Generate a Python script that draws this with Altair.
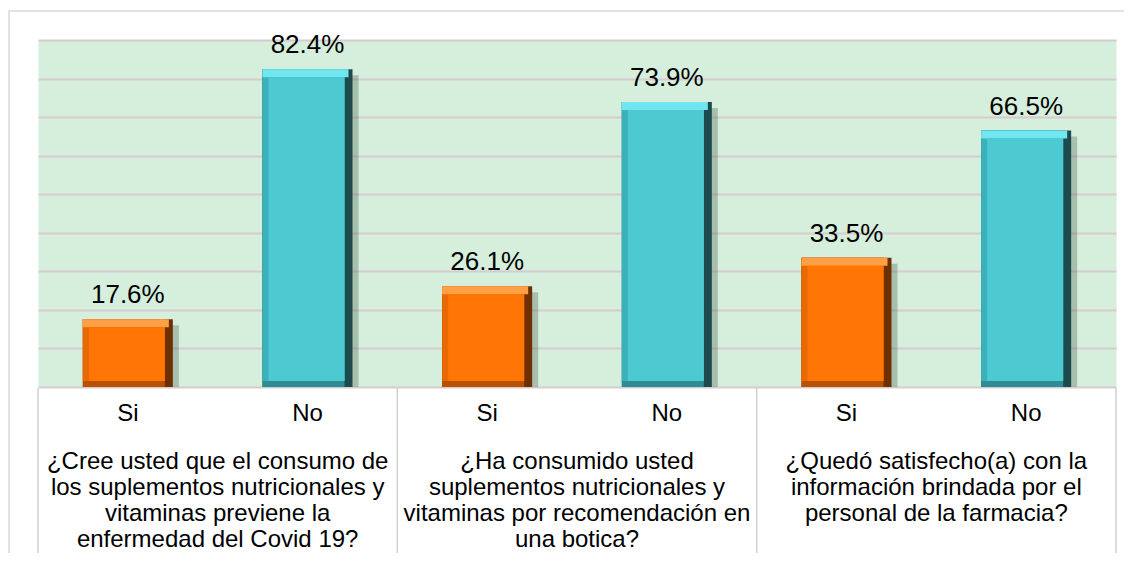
import altair as alt
import pandas as pd

# ---- data ----
responses = ["Si", "No"]
si_values = [17.6, 26.1, 33.5]
no_values = [82.4, 73.9, 66.5]
questions = [
    "¿Cree usted que el consumo de\nlos suplementos nutricionales y\nvitaminas previene la\nenfermedad del Covid 19?",
    "¿Ha consumido usted\nsuplementos nutricionales y\nvitaminas por recomendación en\nuna botica?",
    "¿Quedó satisfecho(a) con la\ninformación brindada por el\npersonal de la farmacia?",
]
y_ticks = [0, 10, 20, 30, 40, 50, 60, 70, 80, 90]

rows = []
for i, q in enumerate(questions):
    for r, v in zip(responses, [si_values[i], no_values[i]]):
        rows.append({"key": f"q{i+1}-{r}", "resp": r, "value": v,
                     "label": f"{v:.1f}%", "question": q})
df = pd.DataFrame(rows)
keys = list(df["key"])

W, H = 1078, 347
FONT = "Liberation Sans"

base = alt.Chart(df)
xscale = alt.Scale(paddingInner=0, paddingOuter=0)
x_enc = alt.X("key:N", sort=keys, scale=xscale, axis=None)
yaxis = alt.Axis(values=y_ticks, labels=False, ticks=False, domain=False, title=None,
                 grid=True, gridColor="#d6ccd0", gridWidth=2)
yscale = alt.Scale(domain=[0, 90], nice=False)
y_enc = alt.Y("value:Q", scale=yscale, axis=yaxis)
y0 = alt.datum(0)


def pick(si_col, no_col):
    return alt.condition(alt.datum.resp == "Si", alt.value(si_col), alt.value(no_col))


border = alt.Chart(pd.DataFrame({"a": [0]})).mark_rect(
    fillOpacity=0, stroke="#d9d9d9", strokeWidth=1.5
).encode(x=alt.value(-29), x2=alt.value(W + 40), y=alt.value(-29), y2=alt.value(H + 250))

shadow = base.mark_bar(width=90, xOffset=6, yOffset=6, color="#3f5246", opacity=0.3).encode(
    x=x_enc, y=y_enc, y2=y0)
dark = base.mark_bar(width=90).encode(x=x_enc, y=y_enc, y2=y0, color=pick("#6e3000", "#1c4a4d"))
bottomface = base.mark_bar(width=82, xOffset=-4).encode(
    x=x_enc, y=y_enc, y2=y0, color=pick("#b85200", "#2e8d93"))
leftface = base.mark_bar(width=82, xOffset=-4, y2Offset=-6).encode(
    x=x_enc, y=y_enc, y2=y0, color=pick("#ea6800", "#3bb2ba"))
topface = base.mark_bar(width=86, xOffset=-2, y2Offset=8).encode(
    x=x_enc, y=y_enc, y2="value:Q", color=pick("#ffa047", "#72e6ee"))
center = base.mark_bar(width=76, xOffset=-1, yOffset=8, y2Offset=-6).encode(
    x=x_enc, y=y_enc, y2=y0, color=pick("#ff7506", "#4dc9d1"))

values = base.mark_text(baseline="alphabetic", dy=-16, fontSize=26, font=FONT, color="#000000").encode(
    x=x_enc, y=y_enc, text="label:N")

resp_labels = base.mark_text(baseline="alphabetic", fontSize=24, font=FONT, color="#000000").encode(
    x=x_enc, y=alt.value(H + 34), text="resp:N")

q_labels = base.transform_filter(alt.datum.resp == "Si").mark_text(
    baseline="alphabetic", fontSize=24, font=FONT, color="#000000", lineBreak="\n", lineHeight=26
).encode(
    x=alt.X("key:N", sort=keys, scale=xscale, axis=None, bandPosition=1),
    y=alt.value(H + 82), text="question:N")

seps = base.transform_filter(alt.datum.resp == "Si").mark_rule(color="#d0d0d0", strokeWidth=1.5).encode(
    x=alt.X("key:N", sort=keys, scale=xscale, axis=None, bandPosition=0),
    y=alt.value(H + 1), y2=alt.value(H + 230))
sep_right = alt.Chart(pd.DataFrame({"a": [0]})).mark_rule(color="#d0d0d0", strokeWidth=1.5).encode(
    x=alt.value(W), y=alt.value(H + 1), y2=alt.value(H + 230))

chart = alt.layer(
    border, shadow, dark, bottomface, leftface, topface, center, values, resp_labels, q_labels,
    seps, sep_right
).properties(
    width=W, height=H,
    autosize=alt.AutoSizeParams(type="none"),
    padding={"left": 30, "top": 32, "right": 8, "bottom": 166},
    background="#ffffff",
).configure_view(fill="#d5efdc", stroke="transparent")

chart.save("out.html", embed_options={"renderer": "svg", "actions": False})
